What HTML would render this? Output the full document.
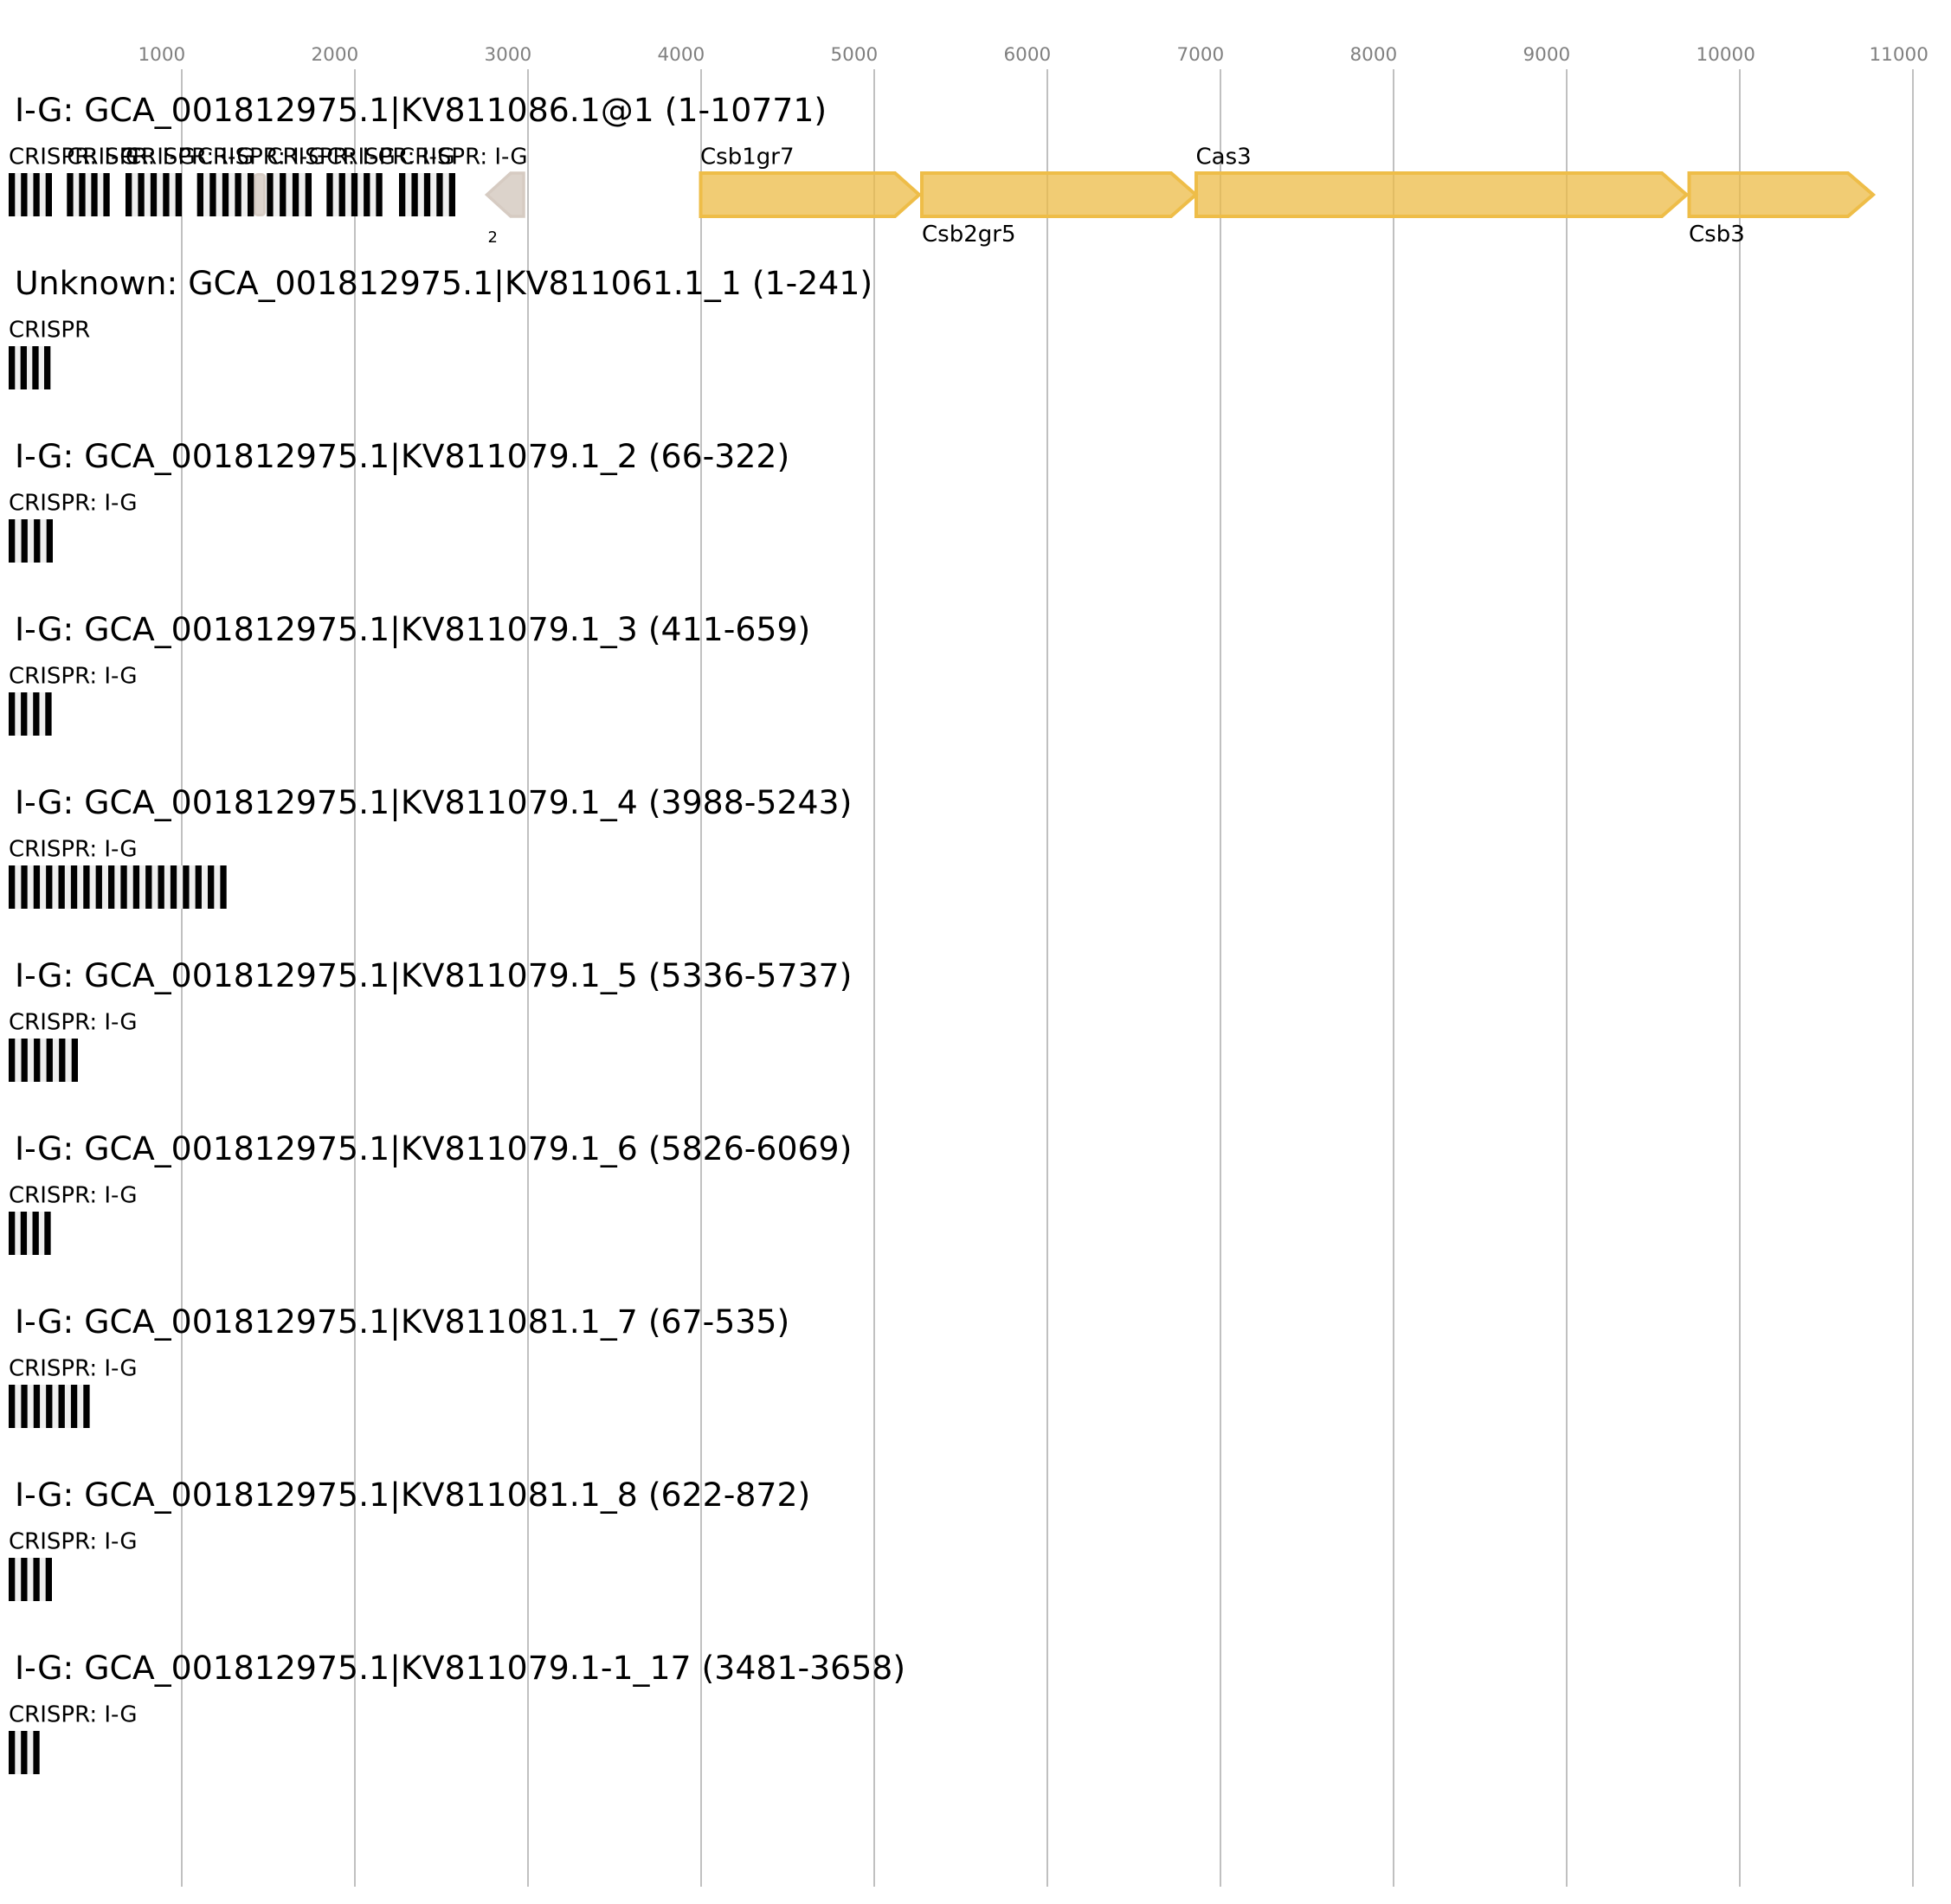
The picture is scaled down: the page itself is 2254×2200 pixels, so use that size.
<!DOCTYPE html>
<html><head><meta charset="utf-8"><style>
html,body{margin:0;padding:0;background:#fff;}
svg{display:block;}
.tick{font-family:"DejaVu Sans","Liberation Sans",sans-serif;font-size:21.5px;fill:#808080;}
.title{font-family:"DejaVu Sans","Liberation Sans",sans-serif;font-size:37.8px;fill:#000;}
.lab{font-family:"DejaVu Sans","Liberation Sans",sans-serif;font-size:26px;fill:#000;}
.small{font-family:"DejaVu Sans","Liberation Sans",sans-serif;font-size:18px;fill:#000;}
.grid{stroke:#c0c0c0;stroke-width:2;}
.gene{fill:rgba(236,187,70,0.75);stroke:#eebd48;stroke-width:4;stroke-linejoin:miter;}
</style></head><body>
<svg width="2254" height="2200" viewBox="0 0 2254 2200" xmlns="http://www.w3.org/2000/svg">
<rect width="2254" height="2200" fill="#fff"/>
<!-- gridlines -->
<g class="grid">
<line x1="210" y1="80" x2="210" y2="2180"/>
<line x1="410" y1="80" x2="410" y2="2180"/>
<line x1="610" y1="80" x2="610" y2="2180"/>
<line x1="810" y1="80" x2="810" y2="2180"/>
<line x1="1010" y1="80" x2="1010" y2="2180"/>
<line x1="1210" y1="80" x2="1210" y2="2180"/>
<line x1="1410" y1="80" x2="1410" y2="2180"/>
<line x1="1610" y1="80" x2="1610" y2="2180"/>
<line x1="1810" y1="80" x2="1810" y2="2180"/>
<line x1="2010" y1="80" x2="2010" y2="2180"/>
<line x1="2210" y1="80" x2="2210" y2="2180"/>
</g>
<!-- tick labels -->
<g class="tick">
<text x="159.5" y="70">1000</text>
<text x="359.5" y="70">2000</text>
<text x="559.5" y="70">3000</text>
<text x="759.5" y="70">4000</text>
<text x="959.5" y="70">5000</text>
<text x="1159.5" y="70">6000</text>
<text x="1359.5" y="70">7000</text>
<text x="1559.5" y="70">8000</text>
<text x="1759.5" y="70">9000</text>
<text x="1959.5" y="70">10000</text>
<text x="2159.5" y="70">11000</text>
</g>

<!-- titles -->
<g class="title">
<text x="17" y="140">I-G: GCA_001812975.1|KV811086.1@1 (1-10771)</text>
<text x="17" y="340">Unknown: GCA_001812975.1|KV811061.1_1 (1-241)</text>
<text x="17" y="540">I-G: GCA_001812975.1|KV811079.1_2 (66-322)</text>
<text x="17" y="740">I-G: GCA_001812975.1|KV811079.1_3 (411-659)</text>
<text x="17" y="940">I-G: GCA_001812975.1|KV811079.1_4 (3988-5243)</text>
<text x="17" y="1140">I-G: GCA_001812975.1|KV811079.1_5 (5336-5737)</text>
<text x="17" y="1340">I-G: GCA_001812975.1|KV811079.1_6 (5826-6069)</text>
<text x="17" y="1540">I-G: GCA_001812975.1|KV811081.1_7 (67-535)</text>
<text x="17" y="1740">I-G: GCA_001812975.1|KV811081.1_8 (622-872)</text>
<text x="17" y="1940">I-G: GCA_001812975.1|KV811079.1-1_17 (3481-3658)</text>
</g>

<!-- Track 1 genes -->
<rect x="294.5" y="201.5" width="11" height="47" rx="3" fill="#ddd4cd" stroke="#d6ccc4" stroke-width="3"/>
<path d="M562.5,225 L590,200 L605,200 L605,250 L590,250 Z" fill="#dcd3cb" stroke="#d6cbc2" stroke-width="3.5" stroke-linejoin="miter"/>
<text class="small" x="563.5" y="280">2</text>

<path class="gene" d="M809.5,200 L1034,200 L1062,225 L1034,250 L809.5,250 Z"/>
<path class="gene" d="M1065,200 L1353,200 L1381.5,225 L1353,250 L1065,250 Z"/>
<path class="gene" d="M1382,200 L1920,200 L1948.5,225 L1920,250 L1382,250 Z"/>
<path class="gene" d="M1951.5,200 L2135,200 L2164,225 L2135,250 L1951.5,250 Z"/>
<g class="lab">
<text x="809" y="189.5">Csb1gr7</text>
<text x="1065" y="279">Csb2gr5</text>
<text x="1381.5" y="189.5">Cas3</text>
<text x="1951" y="279">Csb3</text>
</g>

<!-- Track 1 CRISPR groups -->
<g>
<rect x="10" y="200" width="50" height="50" fill="#efefef"/>
<rect x="77.3" y="200" width="49.4" height="50" fill="#efefef"/>
<rect x="145" y="200" width="65" height="50" fill="#efefef"/>
<rect x="227.7" y="200" width="65.6" height="50" fill="#efefef"/>
<rect x="308.3" y="200" width="51.7" height="50" fill="#efefef"/>
<rect x="377.3" y="200" width="64.4" height="50" fill="#efefef"/>
<rect x="461" y="200" width="65" height="50" fill="#efefef"/>
</g>
<g fill="#000">
<rect x="10" y="200" width="7.3" height="50"/><rect x="24.23" y="200" width="7.3" height="50"/><rect x="38.47" y="200" width="7.3" height="50"/><rect x="52.7" y="200" width="7.3" height="50"/>
<rect x="77.3" y="200" width="7.3" height="50"/><rect x="91.33" y="200" width="7.3" height="50"/><rect x="105.37" y="200" width="7.3" height="50"/><rect x="119.4" y="200" width="7.3" height="50"/>
<rect x="145" y="200" width="7.3" height="50"/><rect x="159.43" y="200" width="7.3" height="50"/><rect x="173.85" y="200" width="7.3" height="50"/><rect x="188.28" y="200" width="7.3" height="50"/><rect x="202.7" y="200" width="7.3" height="50"/>
<rect x="227.7" y="200" width="7.3" height="50"/><rect x="242.28" y="200" width="7.3" height="50"/><rect x="256.85" y="200" width="7.3" height="50"/><rect x="271.43" y="200" width="7.3" height="50"/><rect x="286" y="200" width="7.3" height="50"/>
<rect x="308.3" y="200" width="7.3" height="50"/><rect x="323.1" y="200" width="7.3" height="50"/><rect x="337.9" y="200" width="7.3" height="50"/><rect x="352.7" y="200" width="7.3" height="50"/>
<rect x="377.3" y="200" width="7.3" height="50"/><rect x="391.58" y="200" width="7.3" height="50"/><rect x="405.85" y="200" width="7.3" height="50"/><rect x="420.13" y="200" width="7.3" height="50"/><rect x="434.4" y="200" width="7.3" height="50"/>
<rect x="461" y="200" width="7.3" height="50"/><rect x="475.43" y="200" width="7.3" height="50"/><rect x="489.85" y="200" width="7.3" height="50"/><rect x="504.28" y="200" width="7.3" height="50"/><rect x="518.7" y="200" width="7.3" height="50"/>
</g>
<g class="lab">
<text x="10" y="189.5">CRISPR: I-G</text>
<text x="77.3" y="189.5">CRISPR: I-G</text>
<text x="145" y="189.5">CRISPR: I-G</text>
<text x="227.7" y="189.5">CRISPR: I-G</text>
<text x="308.3" y="189.5">CRISPR: I-G</text>
<text x="377.3" y="189.5">CRISPR: I-G</text>
<text x="461" y="189.5">CRISPR: I-G</text>
</g>

<!-- Track 2 -->
<rect x="10" y="400" width="48.3" height="50" fill="#efefef"/>
<g fill="#000">
<rect x="10" y="400" width="7.3" height="50"/><rect x="23.67" y="400" width="7.3" height="50"/><rect x="37.33" y="400" width="7.3" height="50"/><rect x="51" y="400" width="7.3" height="50"/>
</g>
<text class="lab" x="10" y="389.5">CRISPR</text>

<!-- Track 3 -->
<rect x="10" y="600" width="51" height="50" fill="#efefef"/>
<g fill="#000">
<rect x="10" y="600" width="7.3" height="50"/><rect x="24.57" y="600" width="7.3" height="50"/><rect x="39.13" y="600" width="7.3" height="50"/><rect x="53.7" y="600" width="7.3" height="50"/>
</g>
<text class="lab" x="10" y="589.5">CRISPR: I-G</text>

<!-- Track 4 -->
<rect x="10" y="800" width="49.6" height="50" fill="#efefef"/>
<g fill="#000">
<rect x="10" y="800" width="7.3" height="50"/><rect x="24.1" y="800" width="7.3" height="50"/><rect x="38.2" y="800" width="7.3" height="50"/><rect x="52.3" y="800" width="7.3" height="50"/>
</g>
<text class="lab" x="10" y="789.5">CRISPR: I-G</text>

<!-- Track 5 -->
<rect x="10" y="1000" width="251.7" height="50" fill="#efefef"/>
<g fill="#000">
<rect x="10" y="1000" width="7.3" height="50"/><rect x="24.38" y="1000" width="7.3" height="50"/><rect x="38.75" y="1000" width="7.3" height="50"/><rect x="53.13" y="1000" width="7.3" height="50"/><rect x="67.5" y="1000" width="7.3" height="50"/><rect x="81.88" y="1000" width="7.3" height="50"/><rect x="96.26" y="1000" width="7.3" height="50"/><rect x="110.63" y="1000" width="7.3" height="50"/><rect x="125.01" y="1000" width="7.3" height="50"/><rect x="139.38" y="1000" width="7.3" height="50"/><rect x="153.76" y="1000" width="7.3" height="50"/><rect x="168.14" y="1000" width="7.3" height="50"/><rect x="182.51" y="1000" width="7.3" height="50"/><rect x="196.89" y="1000" width="7.3" height="50"/><rect x="211.26" y="1000" width="7.3" height="50"/><rect x="225.64" y="1000" width="7.3" height="50"/><rect x="240.02" y="1000" width="7.3" height="50"/><rect x="254.4" y="1000" width="7.3" height="50"/>
</g>
<text class="lab" x="10" y="989.5">CRISPR: I-G</text>

<!-- Track 6 -->
<rect x="10" y="1200" width="80" height="50" fill="#efefef"/>
<g fill="#000">
<rect x="10" y="1200" width="7.3" height="50"/><rect x="24.54" y="1200" width="7.3" height="50"/><rect x="39.08" y="1200" width="7.3" height="50"/><rect x="53.62" y="1200" width="7.3" height="50"/><rect x="68.16" y="1200" width="7.3" height="50"/><rect x="82.7" y="1200" width="7.3" height="50"/>
</g>
<text class="lab" x="10" y="1189.5">CRISPR: I-G</text>

<!-- Track 7 -->
<rect x="10" y="1400" width="48.6" height="50" fill="#efefef"/>
<g fill="#000">
<rect x="10" y="1400" width="7.3" height="50"/><rect x="23.77" y="1400" width="7.3" height="50"/><rect x="37.53" y="1400" width="7.3" height="50"/><rect x="51.3" y="1400" width="7.3" height="50"/>
</g>
<text class="lab" x="10" y="1389.5">CRISPR: I-G</text>

<!-- Track 8 -->
<rect x="10" y="1600" width="93.6" height="50" fill="#efefef"/>
<g fill="#000">
<rect x="10" y="1600" width="7.3" height="50"/><rect x="24.38" y="1600" width="7.3" height="50"/><rect x="38.77" y="1600" width="7.3" height="50"/><rect x="53.15" y="1600" width="7.3" height="50"/><rect x="67.53" y="1600" width="7.3" height="50"/><rect x="81.92" y="1600" width="7.3" height="50"/><rect x="96.3" y="1600" width="7.3" height="50"/>
</g>
<text class="lab" x="10" y="1589.5">CRISPR: I-G</text>

<!-- Track 9 -->
<rect x="10" y="1800" width="50" height="50" fill="#efefef"/>
<g fill="#000">
<rect x="10" y="1800" width="7.3" height="50"/><rect x="24.23" y="1800" width="7.3" height="50"/><rect x="38.47" y="1800" width="7.3" height="50"/><rect x="52.7" y="1800" width="7.3" height="50"/>
</g>
<text class="lab" x="10" y="1789.5">CRISPR: I-G</text>

<!-- Track 10 -->
<rect x="10" y="2000" width="35.7" height="50" fill="#efefef"/>
<g fill="#000">
<rect x="10" y="2000" width="7.3" height="50"/><rect x="24.2" y="2000" width="7.3" height="50"/><rect x="38.4" y="2000" width="7.3" height="50"/>
</g>
<text class="lab" x="10" y="1989.5">CRISPR: I-G</text>
</svg>
</body></html>
